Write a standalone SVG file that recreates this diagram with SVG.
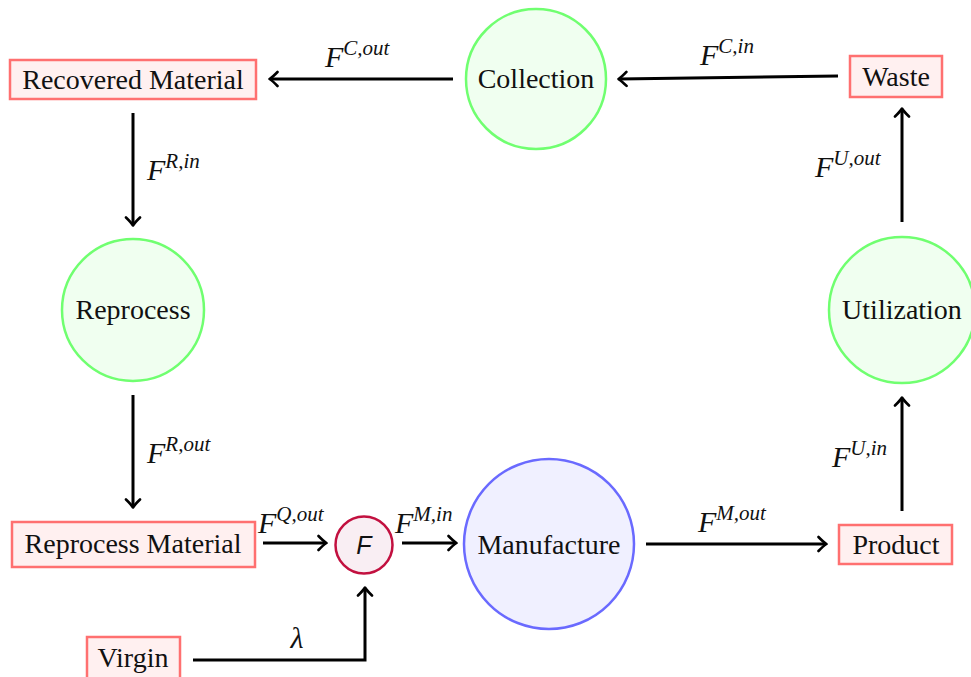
<svg xmlns="http://www.w3.org/2000/svg" width="971" height="677" viewBox="0 0 971 677">
  <style>
    .lbl { font-family: "Liberation Serif", "DejaVu Serif", serif; font-size: 28px; fill: #111; text-anchor: middle; }
    .math { font-family: "Liberation Serif", "DejaVu Serif", serif; font-style: italic; font-size: 30px; fill: #111; }
    .sup { font-size: 21px; }
    .box { fill: #fff0f0; stroke: #ff7070; stroke-width: 2.5; }
    .green { fill: #f0fff0; stroke: #70ff70; stroke-width: 2.5; }
    .blue { fill: #f0f0ff; stroke: #6a6aff; stroke-width: 2.5; }
    .mix { fill: #f9eef3; stroke: #c2103f; stroke-width: 2.5; }
    .edge { fill: none; stroke: #000; stroke-width: 3; marker-end: url(#tip); }
  </style>
  <defs>
    <marker id="tip" viewBox="-10 -9 12 18" refX="0" refY="0" markerWidth="12" markerHeight="18" orient="auto" markerUnits="userSpaceOnUse">
      <path d="M-7.5,-7 Q-2.5,-1.8 0.5,0 Q-2.5,1.8 -7.5,7" fill="none" stroke="#000" stroke-width="2.6" stroke-linecap="round" stroke-linejoin="round"/>
    </marker>
  </defs>

  <rect width="971" height="677" fill="#fff"/>

  <!-- flows -->
  <g id="connectors">
    <path class="edge" d="M453,79 H270"/>
    <path class="edge" d="M838,76 L619,79"/>
    <path class="edge" d="M902,222 V109"/>
    <path class="edge" d="M902,511 V398"/>
    <path class="edge" d="M646,544 H826"/>
    <path class="edge" d="M133,113 V225"/>
    <path class="edge" d="M133,395 V507"/>
    <path class="edge" d="M263,543 H326"/>
    <path class="edge" d="M402,543 H456"/>
    <path class="edge" d="M193,660 H365 V588"/>

    <text class="math" x="325" y="67">F<tspan class="sup" dy="-12">C,out</tspan></text>
    <text class="math" x="700" y="65">F<tspan class="sup" dy="-12">C,in</tspan></text>
    <text class="math" x="815" y="177">F<tspan class="sup" dy="-12">U,out</tspan></text>
    <text class="math" x="832" y="467">F<tspan class="sup" dy="-12">U,in</tspan></text>
    <text class="math" x="698" y="532">F<tspan class="sup" dy="-12">M,out</tspan></text>
    <text class="math" x="147" y="180">F<tspan class="sup" dy="-12">R,in</tspan></text>
    <text class="math" x="147" y="463">F<tspan class="sup" dy="-12">R,out</tspan></text>
    <text class="math" x="258" y="533">F<tspan class="sup" dy="-12">Q,out</tspan></text>
    <text class="math" x="395" y="533">F<tspan class="sup" dy="-12">M,in</tspan></text>
    <text class="math" x="297" y="648" text-anchor="middle" style="font-size:30px">λ</text>
  </g>

  <g id="recovered">
    <rect class="box" x="10" y="60" width="246" height="39"/>
    <text class="lbl" x="133" y="89">Recovered Material</text>
  </g>
  <g id="collection">
    <circle class="green" cx="536" cy="79" r="70"/>
    <text class="lbl" x="536" y="88">Collection</text>
  </g>
  <g id="waste">
    <rect class="box" x="850" y="56" width="92" height="41"/>
    <text class="lbl" x="896" y="86">Waste</text>
  </g>
  <g id="reprocess">
    <circle class="green" cx="133" cy="310" r="71"/>
    <text class="lbl" x="133" y="319">Reprocess</text>
  </g>
  <g id="utilization">
    <circle class="green" cx="902" cy="310" r="73"/>
    <text class="lbl" x="902" y="319">Utilization</text>
  </g>
  <g id="reprocess-material">
    <rect class="box" x="12" y="522" width="243" height="45"/>
    <text class="lbl" x="133" y="553">Reprocess Material</text>
  </g>
  <g id="mixer">
    <circle class="mix" cx="364" cy="545" r="28.5"/>
    <text x="364" y="554" text-anchor="middle" style="font-family:'Liberation Sans','DejaVu Sans',sans-serif;font-style:italic;font-size:25px;fill:#111">F</text>
  </g>
  <g id="manufacture">
    <circle class="blue" cx="549" cy="544" r="85"/>
    <text class="lbl" x="549" y="554">Manufacture</text>
  </g>
  <g id="product">
    <rect class="box" x="839" y="525" width="113" height="39"/>
    <text class="lbl" x="896" y="554">Product</text>
  </g>
  <g id="virgin">
    <rect class="box" x="87" y="637" width="93" height="42"/>
    <text class="lbl" x="133" y="667">Virgin</text>
  </g>
</svg>
